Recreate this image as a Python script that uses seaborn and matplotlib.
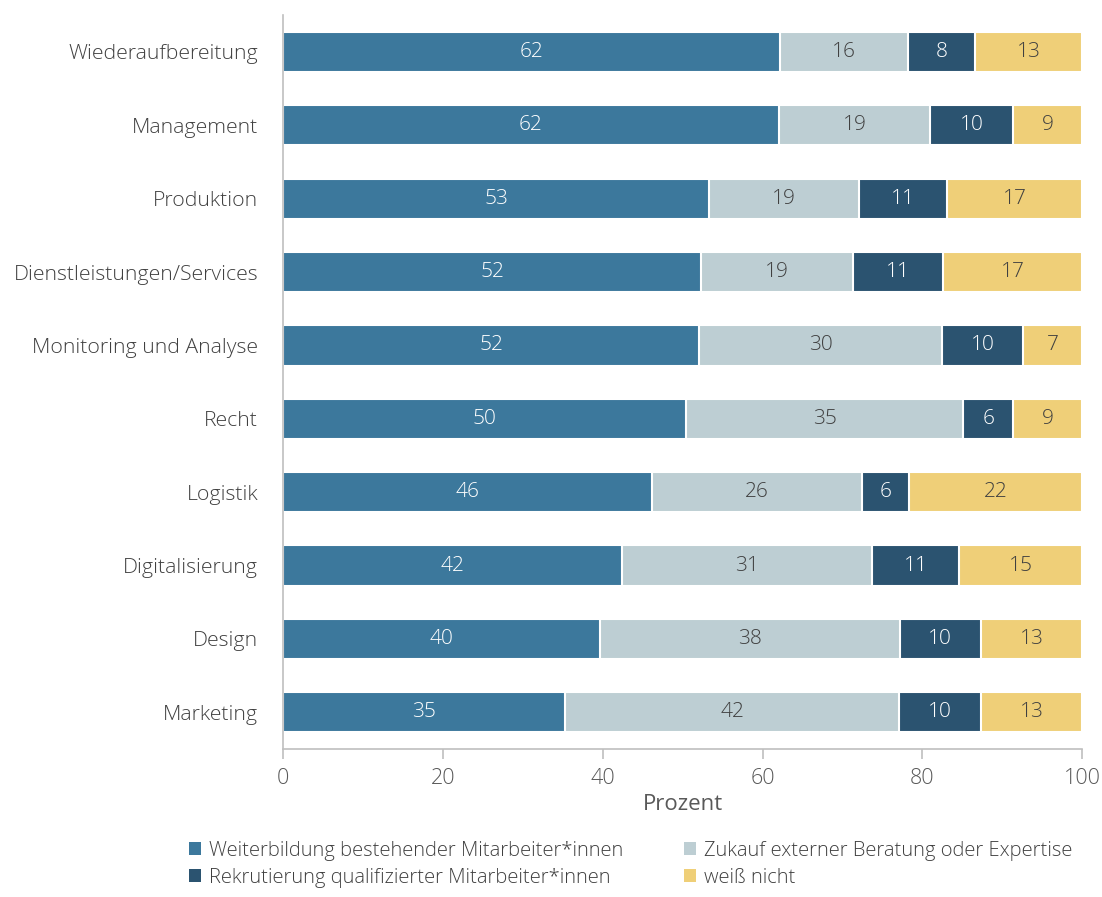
import numpy as np
import pandas as pd
import seaborn as sns
from matplotlib import pyplot as plt
from matplotlib.patches import Patch

# Categories (top to bottom) and shares per answer (percent)
categories = ["Wiederaufbereitung", "Management", "Produktion", "Dienstleistungen/Services",
              "Monitoring und Analyse", "Recht", "Logistik", "Digitalisierung", "Design", "Marketing"]
weiterbildung = [62.2, 62.0, 53.3, 52.3, 52.1, 50.4, 46.1, 42.4, 39.6, 35.3]
zukauf = [16.0, 19.0, 18.8, 19.0, 30.4, 34.7, 26.4, 31.3, 37.6, 41.8]
rekrutierung = [8.4, 10.3, 11.0, 11.3, 10.1, 6.3, 5.8, 10.9, 10.1, 10.2]
weiss_nicht = [13.4, 8.7, 16.9, 17.4, 7.4, 8.6, 21.7, 15.4, 12.7, 12.7]

series_names = ["Weiterbildung bestehender Mitarbeiter*innen", "Zukauf externer Beratung oder Expertise",
                "Rekrutierung qualifizierter Mitarbeiter*innen", "weiß nicht"]
colors = ["#3C789C", "#BDCED3", "#2B5370", "#EFCF78"]
text_colors = ["white", "#404040", "white", "#404040"]

sns.set_theme(style="white")
plt.rcParams['font.family'] = ['Open Sans', 'DejaVu Sans']
plt.rcParams['font.weight'] = 'light'

df = pd.DataFrame({"Kategorie": categories,
                   series_names[0]: weiterbildung,
                   series_names[1]: zukauf,
                   series_names[2]: rekrutierung,
                   series_names[3]: weiss_nicht})
values = df[series_names].to_numpy()
cum = values.cumsum(axis=1)

fig = plt.figure(figsize=(11.02, 8.97), dpi=100)
ax = fig.add_axes([0.257, 0.165, 0.725, 0.818])

# Stacked bars: draw cumulative totals from the outermost segment inwards
for j in range(len(series_names) - 1, -1, -1):
    sns.barplot(x=cum[:, j], y=df["Kategorie"], orient="h", color=colors[j], width=0.55,
                edgecolor="white", linewidth=1.5, saturation=1, ax=ax)

# Segment labels
for i in range(len(categories)):
    for j in range(len(series_names)):
        center = cum[i, j] - values[i, j] / 2
        ax.text(center, i, f"{values[i, j]:.0f}", ha="center", va="center",
                fontsize=15, color=text_colors[j])

ax.set_xlim(0, 100)
ax.set_ylim(9.5, -0.5)
ax.set_xticks([0, 20, 40, 60, 80, 100])
ax.set_xlabel("Prozent", fontsize=16, color="#595959", labelpad=3)
ax.set_ylabel("")
ax.tick_params(axis="x", colors="#595959", labelsize=15.5, length=7, width=1.2,
               direction="out", color="#BFBFBF", pad=7)
ax.tick_params(axis="y", labelsize=15.3, length=0, pad=18, labelcolor="#404040")
ax.xaxis.set_ticks_position("bottom")

for side in ["top", "right"]:
    ax.spines[side].set_visible(False)
for side in ["left", "bottom"]:
    ax.spines[side].set_color("#BFBFBF")
    ax.spines[side].set_linewidth(1.2)

# Legend filled row-wise as in the reference
order = [0, 2, 1, 3]
handles = [Patch(facecolor=colors[k], edgecolor="none") for k in order]
labels = [series_names[k] for k in order]
fig.legend(handles, labels, loc="upper left", bbox_to_anchor=(0.155, 0.083), ncol=2,
           frameon=False, fontsize=14.5, handlelength=0.6, handleheight=0.6, handletextpad=0.4,
           columnspacing=3.0, labelspacing=0.35, labelcolor="#404040")

fig.savefig("out.png", dpi=100)
